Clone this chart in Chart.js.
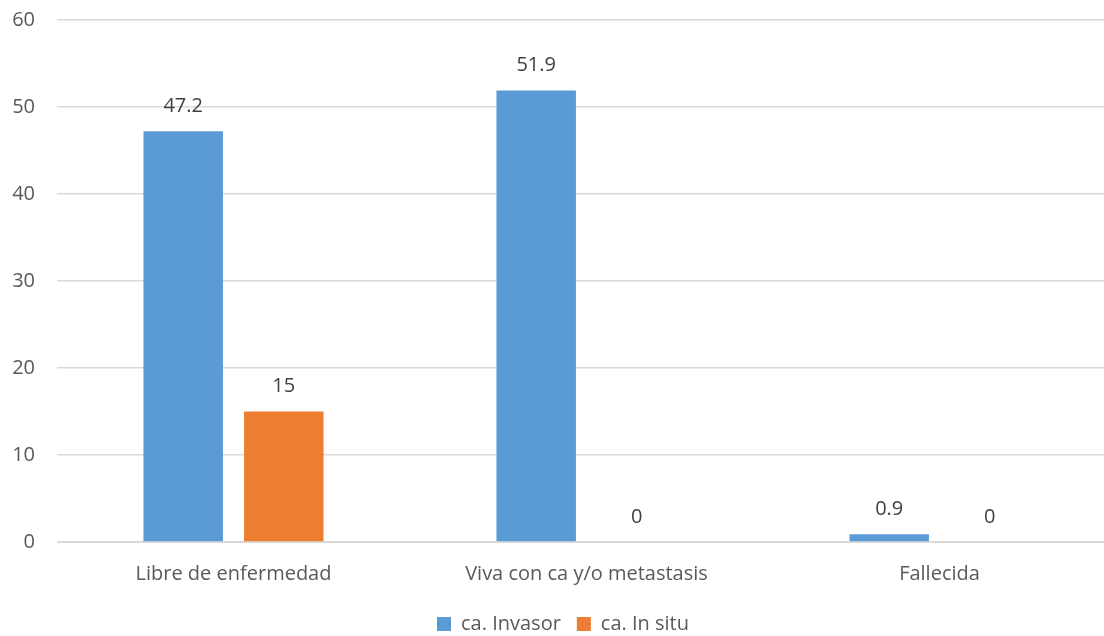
<!DOCTYPE html>
<html lang="es">
<head>
    <meta charset="UTF-8">
    <title>Estado por tipo de carcinoma</title>
    <script src="https://cdn.jsdelivr.net/npm/chart.js"></script>
    <style>
        html, body { margin: 0; padding: 0; background: #fff; overflow: hidden; }
        /* el área de trazado sigue un poco más allá del borde derecho, como en el original */
        .chart-container { width: 1116px; height: 636px; }
    </style>
</head>
<body>
    <div class="chart-container">
        <canvas id="estadoChart"></canvas>
    </div>

    <script>
        const categorias = ['Libre de enfermedad', 'Viva con ca y/o metastasis', 'Fallecida'];
        const invasor = [47.2, 51.9, 0.9];
        const inSitu = [15, 0, 0];
        const serieNombres = ['ca. Invasor', 'ca. In situ'];

        const textColor = '#595959';
        const fontFamily = '"Open Sans", "Liberation Sans", sans-serif';

        // etiquetas de valor encima de cada barra
        const etiquetasValor = {
            id: 'etiquetasValor',
            afterDatasetsDraw(chart) {
                const ctx = chart.ctx;
                ctx.save();
                ctx.fillStyle = '#404040';
                ctx.font = '20px ' + fontFamily;
                ctx.textAlign = 'center';
                ctx.textBaseline = 'middle';
                chart.data.datasets.forEach((ds, i) => {
                    chart.getDatasetMeta(i).data.forEach((bar, j) => {
                        ctx.fillText(String(ds.data[j]), bar.x, bar.y - 25);
                    });
                });
                ctx.restore();
            }
        };

        const ctx = document.getElementById('estadoChart').getContext('2d');
        new Chart(ctx, {
            type: 'bar',
            data: {
                labels: categorias,
                datasets: [{
                    label: serieNombres[0],
                    data: invasor,
                    backgroundColor: '#5B9BD5'
                }, {
                    label: serieNombres[1],
                    data: inSitu,
                    backgroundColor: '#ED7D31'
                }]
            },
            options: {
                responsive: true,
                maintainAspectRatio: false,
                animation: false,
                categoryPercentage: 0.57,
                barPercentage: 0.79,
                layout: { padding: { top: 20, left: 10, right: 0, bottom: -8 } },
                plugins: {
                    legend: {
                        position: 'bottom',
                        labels: {
                            color: textColor,
                            boxWidth: 14,
                            boxHeight: 14,
                            padding: 16,
                            font: { size: 20, family: fontFamily }
                        }
                    },
                    tooltip: { enabled: false }
                },
                scales: {
                    x: {
                        grid: { display: false },
                        border: { color: '#D9D9D9' },
                        ticks: {
                            color: textColor,
                            padding: 12,
                            font: { size: 20, family: fontFamily }
                        }
                    },
                    y: {
                        min: 0,
                        max: 60,
                        afterFit(scale) {
                            scale.width = 47;
                            scale.paddingTop = 0;
                            scale.paddingBottom = 0;
                        },
                        ticks: {
                            stepSize: 10,
                            color: textColor,
                            padding: 22,
                            font: { size: 20, family: fontFamily }
                        },
                        grid: { color: '#D9D9D9', lineWidth: 1.5, drawTicks: false },
                        border: { display: false }
                    }
                }
            },
            plugins: [etiquetasValor]
        });
    </script>
</body>
</html>
